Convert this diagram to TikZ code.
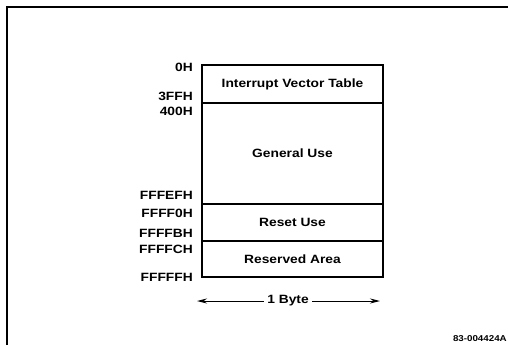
\documentclass[tikz,border=0pt]{standalone}
\usepackage{fontspec}
\setmainfont[FakeStretch=1.15]{Liberation Sans}
\usepackage{tikz}
\usetikzlibrary{arrows.meta,positioning}

\begin{document}
\begin{tikzpicture}[x=1pt, y=-1pt, node distance=0pt,
  every node/.style={font=\fontsize{12}{14}\selectfont\bfseries},
  region/.style={rectangle, draw, line width=1.3pt, minimum width=181pt, inner sep=0pt, outer sep=0pt},
  addr/.style={anchor=east, inner sep=0pt}]
\useasboundingbox (0,0) rectangle (508,345);
\draw [line width=1.6pt] (7,345) -- (7,7) -- (508,7);

% memory map
\node (ivt) [region, minimum height=38pt, anchor=north west] at (202,65) {Interrupt Vector Table};
\node (general) [region, minimum height=101pt, below=0pt of ivt] {General Use};
\node (reset) [region, minimum height=37pt, below=0pt of general] {Reset Use};
\node (reserved) [region, minimum height=36pt, below=0pt of reset] {Reserved Area};

% addresses
\foreach \ya/\txt/\nm in {67/0H/a0, 96/3FFH/a3ff, 111/400H/a400, 195/FFFEFH/afffef,
    213/FFFF0H/affff0, 233/FFFFBH/affffb, 249/FFFFCH/affffc, 277/FFFFFH/afffff}
  \node (\nm) [addr] at (193,\ya) {\txt};

\node (byte) at (288,301) {1 Byte};
\coordinate (bl) at (197,301);
\coordinate (br) at (380,301);
\draw [line width=1pt, -{Stealth[length=10pt,width=5pt]}] (byte.west) -- (bl);
\draw [line width=1pt, -{Stealth[length=10pt,width=5pt]}] (byte.east) -- (br);

\node (code) [anchor=east, inner sep=0pt, font=\fontsize{8.5}{9}\selectfont\bfseries] at (507,339) {83-004424A};
\end{tikzpicture}
\end{document}
